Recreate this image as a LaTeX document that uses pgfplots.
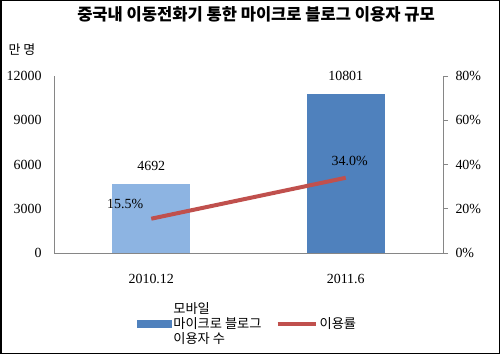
\documentclass[border=0pt]{standalone}
\usepackage{pgfplots}
\pgfplotsset{compat=1.18}
\usepackage{fontspec}
\setmainfont{Liberation Serif}
\newfontfamily\kr{Noto Sans CJK KR}
\definecolor{barA}{HTML}{8DB4E2}
\definecolor{barB}{HTML}{4F81BD}
\definecolor{lineR}{HTML}{C0504D}
\definecolor{axgray}{HTML}{868686}
\begin{document}
\begin{tikzpicture}
\useasboundingbox (0,0) rectangle (500bp,354bp);
\draw[black, line width=1.5bp] (0.75bp,0.75bp) rectangle (499.25bp,353.25bp);
\node[font=\kr\bfseries\fontsize{16.6}{18}\selectfont] at (256bp,340bp) {중국내 이동전화기 통한 마이크로 블로그 이용자 규모};
\node[font=\kr\fontsize{13}{15}\selectfont] at (22bp,304bp) {만 명};
\begin{axis}[
  scale only axis, width=389bp, height=177bp,
  at={(54bp,101bp)}, anchor=south west,
  xmin=-0.5, xmax=1.5, ymin=0, ymax=12000,
  xtick={0,1}, xticklabels={2010.12,2011.6},
  ytick={0,3000,6000,9000,12000},
  scaled y ticks=false,
  /pgf/number format/assume math mode=true,
  /pgf/number format/set thousands separator={},
  axis x line*=bottom, axis y line*=left,
  axis line style={axgray, line width=0.8bp},
  major tick length=0pt,
  tick label style={font=\fontsize{14}{15}\selectfont},
  yticklabel style={xshift=-9bp},
  xticklabel style={yshift=-18bp},
  ybar, bar width=78bp, bar shift=0pt,
  nodes near coords,
  every node near coord/.append style={font=\fontsize{14}{15}\selectfont, yshift=10bp, text=black},
  clip=false,
]
\addplot[fill=barA, draw=none] coordinates {(0,4692)};
\addplot[fill=barB, draw=none] coordinates {(1,10801)};
\end{axis}
\begin{axis}[
  scale only axis, width=389bp, height=177bp,
  at={(54bp,101bp)}, anchor=south west,
  xmin=-0.5, xmax=1.5, ymin=0, ymax=80,
  axis x line=none, axis y line*=right,
  ytick={0,20,40,60,80},
  yticklabel={\pgfmathprintnumber[assume math mode=true]{\tick}\%},
  axis line style={axgray, line width=0.8bp},
  tick style={axgray, line width=0.8bp},
  tick align=outside, major tick length=5bp,
  tick label style={font=\fontsize{14}{15}\selectfont},
  yticklabel style={xshift=4bp},
  clip=false,
  legend columns=2,
  legend style={draw=none, fill=none, font=\kr\fontsize{13.3}{15}\selectfont,
    cells={align=left, anchor=west},
    at={(0.205,-0.40)}, anchor=west,
    /tikz/every even column/.append style={column sep=12bp}},
]
\addlegendimage{legend image code/.code={\fill[barB] (0bp,-3.5bp) rectangle (34bp,3.5bp);}}
\addlegendentry{모바일\\마이크로 블로그\\이용자 수}
\addlegendimage{legend image code/.code={\draw[lineR, line width=4bp] (0bp,0bp) -- (38bp,0bp);}}
\addlegendentry{이용률}
\addplot[lineR, line width=4bp, mark=none, forget plot] coordinates {(0,15.5) (1,34.0)};
\addplot[draw=none, mark=none, forget plot, nodes near coords={15.5\%},
  every node near coord/.append style={anchor=center, xshift=-26bp, yshift=15bp, font=\fontsize{14}{15}\selectfont, text=black}]
  coordinates {(0,15.5)};
\addplot[draw=none, mark=none, forget plot, nodes near coords={34.0\%},
  every node near coord/.append style={anchor=center, xshift=4bp, yshift=17bp, font=\fontsize{14}{15}\selectfont, text=black}]
  coordinates {(1,34.0)};
\end{axis}
\end{tikzpicture}
\end{document}
